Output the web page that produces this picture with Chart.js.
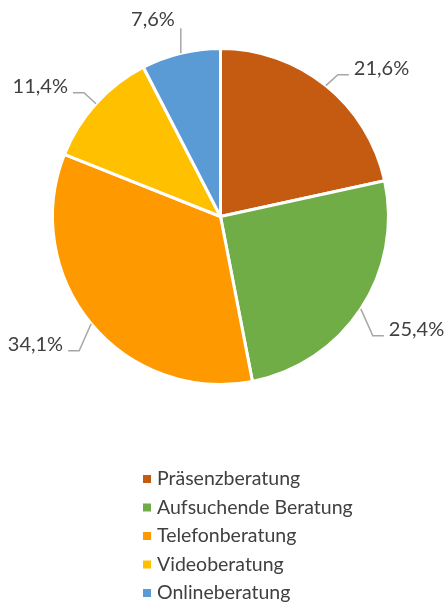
<!DOCTYPE html>
<html>
<head>
<meta charset="utf-8">
<script src="https://cdn.jsdelivr.net/npm/chart.js@4"></script>
<style>
  html, body { margin: 0; padding: 0; background: #fff; }
  #wrap { width: 448px; height: 604px; }
</style>
</head>
<body>
<div id="wrap"><canvas id="pieChart" width="448" height="604"></canvas></div>
<script>
const categories = ['Präsenzberatung', 'Aufsuchende Beratung', 'Telefonberatung', 'Videoberatung', 'Onlineberatung'];
const shares = [21.6, 25.4, 34.1, 11.4, 7.6];
const pctLabels = ['21,6%', '25,4%', '34,1%', '11,4%', '7,6%'];
const colors = ['#C55A11', '#70AD47', '#FF9900', '#FFC000', '#5B9BD5'];

const FONT = 'Lato, "Open Sans", sans-serif';
const TEXT = '#404040';

// percentage labels with elbow leader lines
const outsideLabels = {
    id: 'outsideLabels',
    afterDraw(chart) {
        const ctx = chart.ctx;
        const meta = chart.getDatasetMeta(0);
        ctx.save();
        ctx.font = '20px ' + FONT;
        ctx.fillStyle = TEXT;
        ctx.strokeStyle = '#A6A6A6';
        ctx.lineWidth = 1.5;
        ctx.textBaseline = 'middle';
        meta.data.forEach((arc, i) => {
            const p = arc.getProps(['x', 'y', 'startAngle', 'endAngle', 'outerRadius'], true);
            const a = (p.startAngle + p.endAngle) / 2;
            const cos = Math.cos(a), sin = Math.sin(a);
            const x0 = p.x + cos * p.outerRadius;
            const y0 = p.y + sin * p.outerRadius;
            ctx.beginPath();
            ctx.moveTo(x0, y0);
            if (Math.abs(cos) < 0.3) {
                // near the top: straight up, text above left
                const y1 = y0 - 25;
                ctx.lineTo(x0, y1);
                ctx.stroke();
                ctx.textAlign = 'right';
                ctx.fillText(pctLabels[i], x0 - 6, y1 - 9);
            } else {
                const side = cos > 0 ? 1 : -1;
                const x1 = x0 + side * 12;
                const y1 = y0 + (sin > 0 ? 27 : -11);
                const x2 = x1 + side * 11;
                ctx.lineTo(x1, y1);
                ctx.lineTo(x2, y1);
                ctx.stroke();
                ctx.textAlign = side > 0 ? 'left' : 'right';
                ctx.fillText(pctLabels[i], x2 + side * 5, y1 - 6);
            }
        });
        ctx.restore();
    }
};

// vertical legend below the pie
const stackedLegend = {
    id: 'stackedLegend',
    afterDraw(chart) {
        const ctx = chart.ctx;
        ctx.save();
        ctx.font = '19.5px ' + FONT;
        ctx.textBaseline = 'middle';
        ctx.textAlign = 'left';
        categories.forEach((name, i) => {
            const y = 479 + i * 28.5;
            ctx.fillStyle = colors[i];
            ctx.fillRect(143, y - 4, 8, 8);
            ctx.fillStyle = TEXT;
            ctx.fillText(name, 157, y);
        });
        ctx.restore();
    }
};

new Chart(document.getElementById('pieChart').getContext('2d'), {
    type: 'pie',
    data: {
        labels: categories,
        datasets: [{
            data: shares,
            backgroundColor: colors,
            borderColor: '#FFFFFF',
            borderWidth: 3,
            hoverOffset: 0,
            offset: 0
        }]
    },
    options: {
        responsive: false,
        animation: false,
        events: [],
        layout: { padding: { top: 47, bottom: 218, left: 51, right: 58 } },
        plugins: {
            legend: { display: false },
            tooltip: { enabled: false }
        }
    },
    plugins: [outsideLabels, stackedLegend]
});
</script>
</body>
</html>
